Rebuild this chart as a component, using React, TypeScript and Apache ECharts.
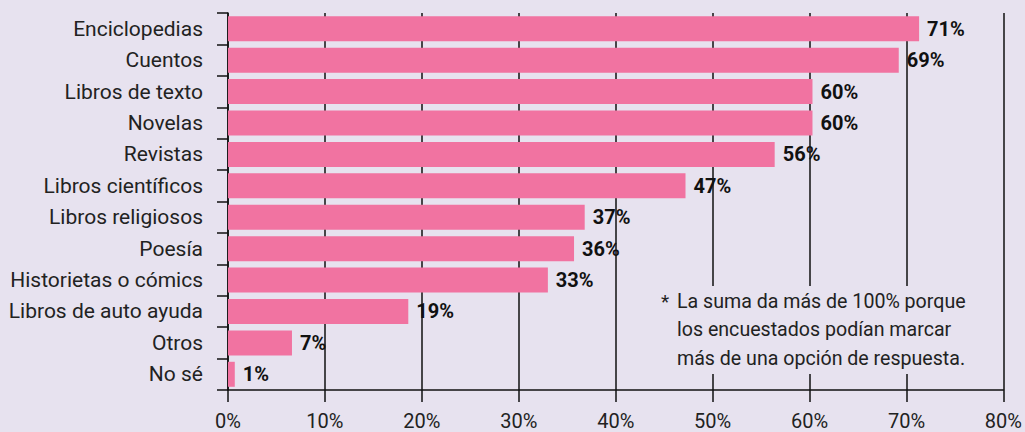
import React, { useEffect, useRef } from "react";
import * as echarts from "echarts";

const categories = [
  "Enciclopedias",
  "Cuentos",
  "Libros de texto",
  "Novelas",
  "Revistas",
  "Libros científicos",
  "Libros religiosos",
  "Poesía",
  "Historietas o cómics",
  "Libros de auto ayuda",
  "Otros",
  "No sé",
];
const values = [71.3, 69.2, 60.3, 60.3, 56.4, 47.2, 36.8, 35.7, 33.0, 18.6, 6.6, 0.7];
const noteLines = [
  "La suma da más de 100% porque",
  "los encuestados podían marcar",
  "más de una opción de respuesta.",
];

const FONT = "Roboto";
const BG = "#e7e2ef";

export default function App() {
  const ref = useRef<HTMLDivElement>(null);
  useEffect(() => {
    if (!ref.current) return;
    const chart = echarts.init(ref.current, null, { renderer: "svg" });
    chart.setOption({
      animation: false,
      backgroundColor: BG,
      grid: { left: 228, right: 21, top: 13, bottom: 42 },
      xAxis: {
        type: "value",
        min: 0,
        max: 80,
        interval: 10,
        axisLine: { show: true, lineStyle: { color: "#111", width: 1.5 } },
        axisTick: { show: true, length: 12, lineStyle: { color: "#111", width: 1.5 } },
        splitLine: { show: true, lineStyle: { color: "#111", width: 1.5 } },
        axisLabel: {
          formatter: "{value}%",
          fontFamily: FONT,
          fontSize: 20,
          color: "#222",
          margin: 21,
        },
      },
      yAxis: {
        type: "category",
        inverse: true,
        data: categories,
        axisLine: { show: true, lineStyle: { color: "#111", width: 1.5 } },
        axisTick: { show: true, length: 11, lineStyle: { color: "#111", width: 1.5 } },
        axisLabel: {
          fontFamily: FONT,
          fontSize: 21,
          color: "#222",
          margin: 25,
        },
      },
      series: [
        {
          type: "bar",
          data: values,
          barWidth: 25,
          itemStyle: { color: "#f173a1" },
          z: 3,
          label: {
            show: true,
            position: "right",
            distance: 8,
            formatter: (p: any) => Math.round(p.value) + "%",
            fontFamily: FONT,
            fontSize: 20,
            fontWeight: "bold",
            color: "#111",
          },
        },
      ],
      graphic: [
        {
          type: "rect",
          z: 100,
          shape: { x: 655, y: 286, width: 338, height: 88 },
          style: { fill: BG },
        },
        {
          type: "text",
          z: 101,
          x: 661,
          y: 301,
          style: {
            text: "*",
            fontFamily: FONT,
            fontSize: 19,
            fill: "#222",
            verticalAlign: "middle",
          },
        },
        ...noteLines.map((t, i) => ({
          type: "text",
          z: 101,
          x: 677,
          y: 301 + i * 28.5,
          style: {
            text: t,
            fontFamily: FONT,
            fontSize: 19.6,
            fill: "#222",
            verticalAlign: "middle",
          },
        })),
      ],
    });
    return () => chart.dispose();
  }, []);
  return (
    <div
      ref={ref}
      style={{ position: "fixed", left: 0, top: 0, width: 1025, height: 432 }}
    />
  );
}
